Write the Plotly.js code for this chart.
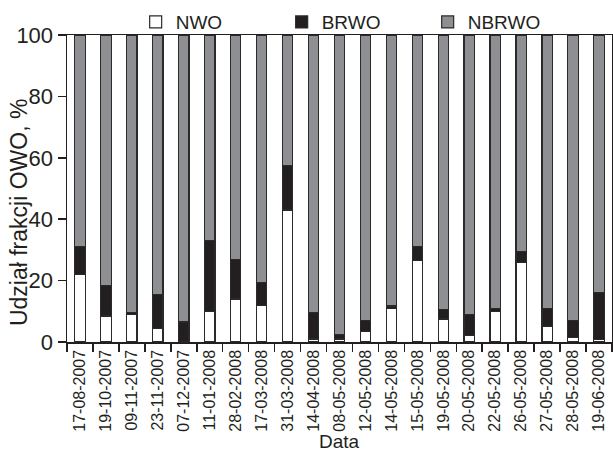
<!DOCTYPE html>
<html>
<head>
<meta charset="utf-8">
<script src="https://cdn.plot.ly/plotly-3.0.1.min.js"></script>
<style>html,body{margin:0;padding:0;background:#fff;}#chart{width:613px;height:455px;}</style>
</head>
<body>
<div id="chart"></div>
<script>
const dates = ["17-08-2007","19-10-2007","09-11-2007","23-11-2007","07-12-2007","11-01-2008","28-02-2008","17-03-2008","31-03-2008","14-04-2008","08-05-2008","12-05-2008","14-05-2008","15-05-2008","19-05-2008","20-05-2008","22-05-2008","26-05-2008","27-05-2008","28-05-2008","19-06-2008"];
const nwo   = [22, 8.5, 9, 4.5, 0, 10, 14, 12, 43, 1, 1, 3.5, 11, 26.5, 7.5, 2, 10, 26, 5, 1.5, 0.7];
const brwo  = [9, 10, 0.7, 11, 6.5, 23, 13, 7.5, 14.5, 8.5, 1.5, 3.5, 0.7, 4.5, 3, 7, 1, 3.5, 6, 5.5, 15.3];
const nbrwo = nwo.map((v, i) => +(100 - v - brwo[i]).toFixed(1));
const xTitle = 'Data';
const yTitle = 'Udział frakcji OWO, %';

const outline = {color: '#2a2a2a', width: 1.2};
const traces = [
  {type: 'bar', name: 'NWO', x: dates, y: nwo, marker: {color: '#ffffff', line: outline}},
  {type: 'bar', name: 'BRWO', x: dates, y: brwo, marker: {color: '#231f20', line: outline}},
  {type: 'bar', name: 'NBRWO', x: dates, y: nbrwo, marker: {color: '#8e8f92', line: outline}}
];

const fontFam = 'Liberation Sans, Arial, sans-serif';
const layout = {
  width: 613, height: 455,
  margin: {l: 67, r: 1, t: 35, b: 113},
  barmode: 'stack',
  bargap: 0.6,
  paper_bgcolor: '#fff', plot_bgcolor: '#fff',
  font: {family: fontFam, color: '#231f20'},
  showlegend: true,
  legend: {
    orientation: 'h', x: 0.126, xanchor: 'left', y: 1.042, yanchor: 'middle',
    font: {size: 19, family: fontFam, color: '#231f20'},
    entrywidth: 101, entrywidthmode: 'pixels',
    traceorder: 'normal', bgcolor: 'rgba(0,0,0,0)'
  },
  xaxis: {
    type: 'category', range: [-0.5, 20.5],
    showline: true, linecolor: '#231f20', linewidth: 1.5, mirror: true,
    ticks: 'outside', tickson: 'boundaries', ticklen: 8, tickwidth: 1.5, tickcolor: '#231f20',
    tickangle: -90, tickfont: {size: 16, family: fontFam, color: '#231f20'},
    showgrid: false, zeroline: false, automargin: false
  },
  yaxis: {
    range: [0, 100], tickvals: [0, 20, 40, 60, 80, 100],
    showline: true, linecolor: '#231f20', linewidth: 1.5, mirror: true,
    ticks: 'outside', ticklen: 8, tickwidth: 1.5, tickcolor: '#231f20',
    tickfont: {size: 22, family: fontFam, color: '#231f20'},
    showgrid: false, zeroline: false, automargin: false
  },
  annotations: [
    {text: xTitle, xref: 'paper', yref: 'paper', x: 0.5, y: -0.3225, xanchor: 'center', yanchor: 'middle',
     showarrow: false, borderpad: 0, font: {size: 19, family: fontFam, color: '#231f20'}},
    {text: yTitle, xref: 'paper', yref: 'paper', x: -0.0888, y: 0.4218, xanchor: 'center', yanchor: 'middle',
     textangle: -90, showarrow: false, font: {size: 23, family: fontFam, color: '#231f20'}}
  ]
};

Plotly.newPlot('chart', traces, layout, {displayModeBar: false, staticPlot: true});
</script>
</body>
</html>
